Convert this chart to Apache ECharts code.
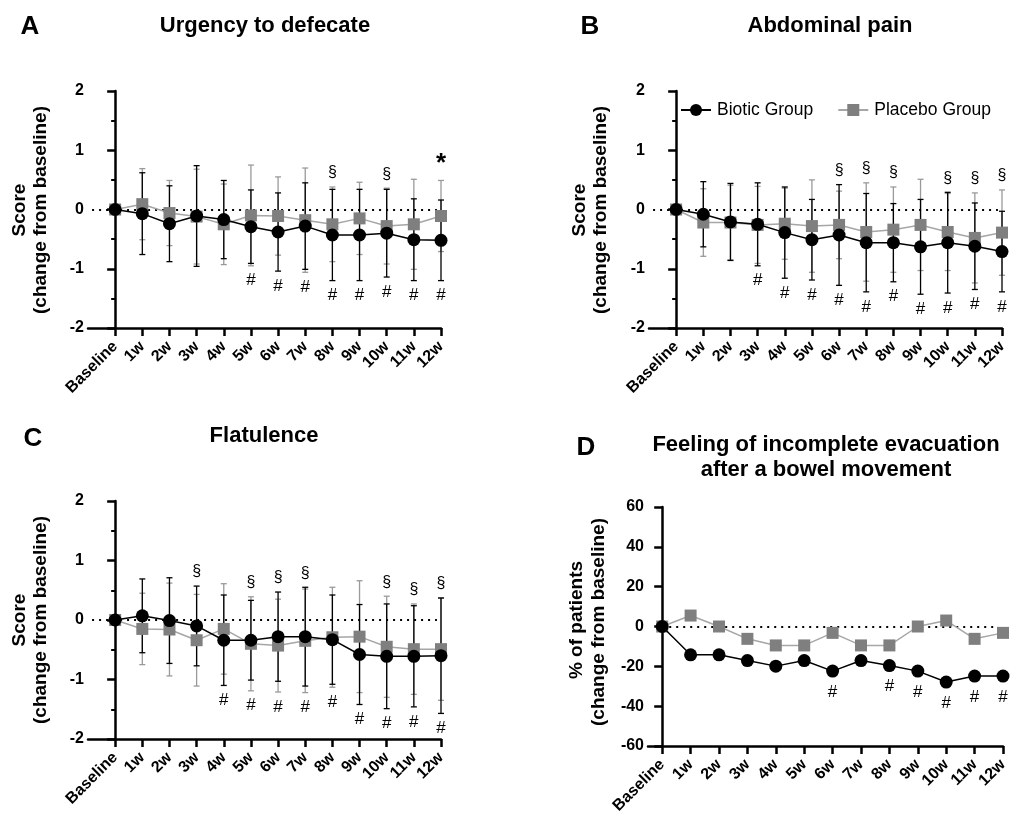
<!DOCTYPE html>
<html>
<head>
<meta charset="utf-8">
<script src="https://cdn.jsdelivr.net/npm/echarts@6/dist/echarts.min.js"></script>
<style>
  html, body { margin: 0; background: #fff; }
  #chart { width: 1019px; height: 821px; }
</style>
</head>
<body>
<div id="chart"></div>
<script>
const weeks = ['Baseline', '1w', '2w', '3w', '4w', '5w', '6w', '7w', '8w', '9w', '10w', '11w', '12w'];

// A - urgency to defecate (mean / SD)
const urgencyBiotic = [0, -0.07, -0.24, -0.11, -0.17, -0.29, -0.38, -0.28, -0.43, -0.43, -0.40, -0.51, -0.52];
const urgencyBioticSd = [0, 0.69, 0.64, 0.85, 0.66, 0.62, 0.66, 0.73, 0.77, 0.77, 0.74, 0.69, 0.68];
const urgencyPlacebo = [0, 0.09, -0.06, -0.12, -0.25, -0.10, -0.11, -0.18, -0.25, -0.15, -0.28, -0.25, -0.11];
const urgencyPlaceboSd = [0, 0.60, 0.55, 0.80, 0.68, 0.85, 0.66, 0.88, 0.63, 0.61, 0.64, 0.76, 0.60];
const urgencyHash = [5, 6, 7, 8, 9, 10, 11, 12];
const urgencySect = [8, 10];
const urgencyStar = [12];

// B - abdominal pain
const painBiotic = [0, -0.08, -0.21, -0.25, -0.39, -0.51, -0.43, -0.56, -0.56, -0.63, -0.56, -0.62, -0.71];
const painBioticSd = [0, 0.55, 0.65, 0.70, 0.77, 0.68, 0.85, 0.83, 0.66, 0.80, 0.85, 0.73, 0.68];
const painPlacebo = [0, -0.22, -0.22, -0.26, -0.24, -0.28, -0.26, -0.38, -0.34, -0.26, -0.38, -0.48, -0.39];
const painPlaceboSd = [0, 0.57, 0.63, 0.65, 0.60, 0.78, 0.57, 0.83, 0.72, 0.77, 0.65, 0.76, 0.72];
const painHash = [3, 4, 5, 6, 7, 8, 9, 10, 11, 12];
const painSect = [6, 7, 8, 10, 11, 12];

// C - flatulence
const flatBiotic = [0, 0.07, -0.01, -0.10, -0.34, -0.34, -0.28, -0.28, -0.33, -0.58, -0.61, -0.61, -0.60];
const flatBioticSd = [0, 0.62, 0.72, 0.67, 0.76, 0.67, 0.75, 0.83, 0.75, 0.84, 0.88, 0.85, 0.97];
const flatPlacebo = [0, -0.15, -0.16, -0.34, -0.15, -0.40, -0.43, -0.35, -0.29, -0.28, -0.45, -0.49, -0.49];
const flatPlaceboSd = [0, 0.60, 0.78, 0.77, 0.76, 0.79, 0.78, 0.87, 0.84, 0.94, 0.85, 0.76, 0.86];
const flatHash = [4, 5, 6, 7, 8, 9, 10, 11, 12];
const flatSect = [3, 5, 6, 7, 10, 11, 12];

// D - incomplete evacuation (% of patients)
const evacBiotic = [0, -14.2, -14.2, -17.1, -19.9, -17.1, -22.4, -17.1, -19.6, -22.4, -27.9, -24.9, -24.9];
const evacPlacebo = [0, 5.5, 0, -6.2, -9.5, -9.5, -3.2, -9.5, -9.5, 0, 3.0, -6.2, -3.2];
const evacHash = [6, 8, 9, 10, 11, 12];

const scoreTicks = [-2, -1, 0, 1, 2];
const percentTicks = [-60, -40, -20, 0, 20, 40, 60];

const FONT = '"Liberation Sans", Arial, sans-serif';
const tickIdx = weeks.map((_, i) => i);

function xAxisFor(idx, min) {
  return {
    type: 'value',
    gridIndex: idx,
    min: min,
    max: 12,
    axisLine: { show: true, onZero: false, lineStyle: { color: '#000', width: 2.5 } },
    axisTick: { show: true, customValues: tickIdx, length: 8, lineStyle: { color: '#000', width: 2.5 } },
    axisLabel: {
      customValues: tickIdx,
      rotate: 45,
      margin: 16,
      formatter: (v) => weeks[v],
      color: '#000',
      fontWeight: 'bold',
      fontSize: 16,
      fontFamily: FONT,
    },
    splitLine: { show: false },
  };
}

function yAxisFor(idx, ticks, minor) {
  return {
    type: 'value',
    gridIndex: idx,
    min: ticks[0],
    max: ticks[ticks.length - 1],
    interval: ticks[1] - ticks[0],
    axisLine: { show: true, lineStyle: { color: '#000', width: 2.5 } },
    axisTick: { show: true, length: 8, lineStyle: { color: '#000', width: 2.5 } },
    minorTick: { show: minor, splitNumber: 2, length: 4, lineStyle: { color: '#000', width: 2 } },
    axisLabel: { color: '#000', fontWeight: 'bold', fontSize: 16, fontFamily: FONT, margin: 4 },
    splitLine: { show: false },
    minorSplitLine: { show: false },
  };
}

function renderErrorBar(params, api) {
  const x = api.value(0);
  const lo = api.coord([x, api.value(1)]);
  const hi = api.coord([x, api.value(2)]);
  const w = 3;
  const style = { stroke: api.visual('color'), lineWidth: 1.3 };
  return {
    type: 'group',
    children: [
      { type: 'line', shape: { x1: lo[0], y1: lo[1], x2: hi[0], y2: hi[1] }, style: style },
      { type: 'line', shape: { x1: lo[0] - w, y1: lo[1], x2: lo[0] + w, y2: lo[1] }, style: style },
      { type: 'line', shape: { x1: hi[0] - w, y1: hi[1], x2: hi[0] + w, y2: hi[1] }, style: style },
    ],
  };
}

function errorBars(idx, mean, sd, color, z) {
  const data = [];
  mean.forEach((m, i) => {
    if (sd[i] > 0) data.push([i, m - sd[i], m + sd[i]]);
  });
  return {
    type: 'custom',
    xAxisIndex: idx,
    yAxisIndex: idx,
    silent: true,
    z: z,
    itemStyle: { color: color },
    encode: { x: 0, y: [1, 2] },
    renderItem: renderErrorBar,
    data: data,
  };
}

function lineSeries(idx, name, values, biotic, zeroEnd) {
  const s = {
    name: name,
    type: 'line',
    xAxisIndex: idx,
    yAxisIndex: idx,
    data: values.map((v, i) => [i, v]),
    symbol: biotic ? 'circle' : 'rect',
    symbolSize: biotic ? 13 : 12,
    itemStyle: { color: biotic ? '#000' : '#7f7f7f' },
    lineStyle: { color: biotic ? '#000' : '#a6a6a6', width: 1.5 },
    z: biotic ? 6 : 5,
  };
  if (zeroEnd) {
    s.markLine = {
      silent: true,
      symbol: 'none',
      label: { show: false },
      lineStyle: { color: '#000', type: [2, 5], width: 2.2 },
      data: [[{ coord: [zeroEnd[0], 0] }, { coord: [zeroEnd[1], 0] }]],
    };
  }
  return s;
}

function annotationSeries(idx, items) {
  return {
    type: 'custom',
    xAxisIndex: idx,
    yAxisIndex: idx,
    silent: true,
    z: 10,
    data: items.map((a) => [a.x, a.y]),
    encode: { x: 0, y: 1 },
    renderItem(params, api) {
      const a = items[params.dataIndex];
      const p = api.coord([a.x, a.y]);
      return {
        type: 'text',
        x: p[0],
        y: p[1] + a.dy,
        style: { text: a.text, fill: '#000', font: a.font, align: 'center', verticalAlign: 'middle' },
      };
    },
  };
}

function scoreMarks(b, bsd, p, psd, hashes, sects, stars) {
  const items = [];
  hashes.forEach((i) => items.push({
    x: i, y: Math.min(b[i] - bsd[i], p[i] - psd[i]), dy: 15, text: '#', font: '17px ' + FONT,
  }));
  sects.forEach((i) => items.push({
    x: i, y: Math.max(b[i] + bsd[i], p[i] + psd[i]), dy: -14, text: '§', font: '16px ' + FONT,
  }));
  (stars || []).forEach((i) => items.push({
    x: i, y: Math.max(b[i] + bsd[i], p[i] + psd[i]), dy: -17, text: '*', font: 'bold 26px ' + FONT,
  }));
  return items;
}

function scorePanel(idx, b, bsd, p, psd, marks) {
  return [
    errorBars(idx, p, psd, '#9a9a9a', 2),
    errorBars(idx, b, bsd, '#000', 3),
    lineSeries(idx, 'Placebo Group', p, false, [-0.85, 11.85]),
    lineSeries(idx, 'Biotic Group', b, true),
    annotationSeries(idx, marks),
  ];
}

const evacMarks = evacHash.map((i) => ({ x: i, y: evacBiotic[i], dy: 21, text: '#', font: '17px ' + FONT }));

function txt(x, y, text, font, rot) {
  return {
    type: 'text',
    x: x,
    y: y,
    rotation: rot || 0,
    style: { text: text, font: font, fill: '#000', align: 'center', verticalAlign: 'middle' },
  };
}

const titleFont = 'bold 22px ' + FONT;
const letterFont = 'bold 26px ' + FONT;
const nameFont = 'bold 19px ' + FONT;
const R = Math.PI / 2;

const chart = echarts.init(document.getElementById('chart'));
chart.setOption({
  animation: false,
  backgroundColor: '#fff',
  legend: {
    data: ['Biotic Group', 'Placebo Group'],
    left: 675,
    top: 96,
    itemWidth: 30,
    itemHeight: 15,
    itemGap: 24,
    textStyle: { color: '#000', fontSize: 17.5, fontFamily: FONT, padding: [0, 0, 0, 1] },
  },
  graphic: [
    txt(30, 27, 'A', letterFont),
    txt(265, 26, 'Urgency to defecate', titleFont),
    txt(590, 27, 'B', letterFont),
    txt(830, 26, 'Abdominal pain', titleFont),
    txt(33, 439, 'C', letterFont),
    txt(264, 436, 'Flatulence', titleFont),
    txt(586, 448, 'D', letterFont),
    txt(826, 445, 'Feeling of incomplete evacuation', titleFont),
    txt(826, 470, 'after a bowel movement', titleFont),
    txt(20, 210, 'Score', nameFont, R),
    txt(41, 210, '(change from baseline)', nameFont, R),
    txt(580, 210, 'Score', nameFont, R),
    txt(601, 210, '(change from baseline)', nameFont, R),
    txt(20, 620, 'Score', nameFont, R),
    txt(41, 620, '(change from baseline)', nameFont, R),
    txt(577, 620, '% of patients', nameFont, R),
    txt(599, 622, '(change from baseline)', nameFont, R),
  ],
  grid: [
    { left: 88, top: 91, width: 353, height: 237 },
    { left: 649, top: 91, width: 353, height: 237 },
    { left: 88, top: 501, width: 353, height: 238 },
    { left: 648, top: 507, width: 355, height: 239 },
  ],
  xAxis: [xAxisFor(0, -1), xAxisFor(1, -1), xAxisFor(2, -1), xAxisFor(3, -0.5)],
  yAxis: [
    yAxisFor(0, scoreTicks, true),
    yAxisFor(1, scoreTicks, true),
    yAxisFor(2, scoreTicks, true),
    yAxisFor(3, percentTicks, false),
  ],
  series: [
    ...scorePanel(0, urgencyBiotic, urgencyBioticSd, urgencyPlacebo, urgencyPlaceboSd,
      scoreMarks(urgencyBiotic, urgencyBioticSd, urgencyPlacebo, urgencyPlaceboSd, urgencyHash, urgencySect, urgencyStar)),
    ...scorePanel(1, painBiotic, painBioticSd, painPlacebo, painPlaceboSd,
      scoreMarks(painBiotic, painBioticSd, painPlacebo, painPlaceboSd, painHash, painSect)),
    ...scorePanel(2, flatBiotic, flatBioticSd, flatPlacebo, flatPlaceboSd,
      scoreMarks(flatBiotic, flatBioticSd, flatPlacebo, flatPlaceboSd, flatHash, flatSect)),
    lineSeries(3, 'Placebo Group', evacPlacebo, false, [0, 11.8]),
    lineSeries(3, 'Biotic Group', evacBiotic, true),
    annotationSeries(3, evacMarks),
  ],
});
</script>
</body>
</html>
